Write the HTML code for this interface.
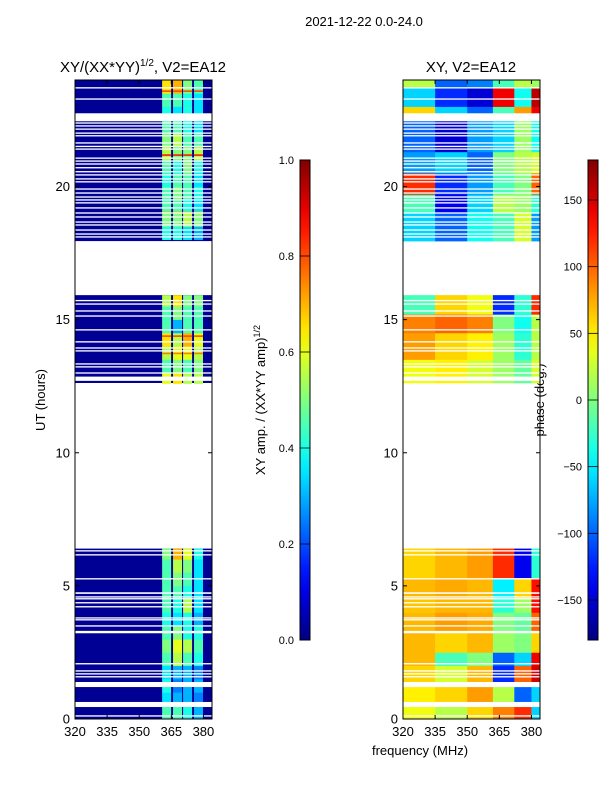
<!DOCTYPE html>
<html><head><meta charset="utf-8">
<style>
body{margin:0;background:#fff;}
svg text{font-family:"Liberation Sans","DejaVu Sans",sans-serif;fill:#000;}
</style></head>
<body>
<svg id="fig" width="600" height="800" xmlns="http://www.w3.org/2000/svg">
<rect width="600" height="800" fill="#fff"/>
<text x="364" y="26" font-size="13" text-anchor="middle">2021-12-22 0.0-24.0</text>
<text x="143" y="72" font-size="15" text-anchor="middle">XY/(XX*YY)<tspan font-size="10" dy="-6">1/2</tspan><tspan dy="6">, V2=EA12</tspan></text>
<text x="471" y="72" font-size="15" text-anchor="middle">XY, V2=EA12</text>
<text transform="translate(45,400) rotate(-90)" font-size="13" text-anchor="middle">UT (hours)</text>
<text x="420" y="755" font-size="13" text-anchor="middle">frequency (MHz)</text>
<text transform="translate(265,400) rotate(-90)" font-size="13" text-anchor="middle">XY amp. / (XX*YY amp)<tspan font-size="9" dy="-5">1/2</tspan></text>
<text transform="translate(544,400) rotate(-90)" font-size="13" text-anchor="middle">phase (deg.)</text>
<g id="left"></g>
<g id="right"></g>
<g id="axes"></g>
</svg>
<script>
// ---- data ----
const segments = [[0,6.4],[12.62,15.92],[17.95,24]];
const gaps = [[6.29,6.34],[6.14,6.19],[5.24,5.29],[4.70,4.76],[4.56,4.61],[4.49,4.54],[4.34,4.39],[4.19,4.24],[3.77,3.82],[3.70,3.75],[3.47,3.52],[3.22,3.31],[2.05,2.10],[1.78,1.83],[1.67,1.72],[1.56,1.61],[1.20,1.39],[0.45,0.64],[0.09,0.14],
 [15.69,15.74],[15.56,15.61],[15.30,15.35],[15.11,15.16],[14.59,14.64],[14.14,14.19],[13.91,13.96],[13.80,13.85],[13.31,13.36],[13.20,13.25],[12.97,13.02],[12.70,12.86],
 [23.68,23.73],[23.26,23.31],[22.45,22.75],[22.36,22.41],[22.25,22.30],[22.13,22.18],[21.98,22.03],[21.88,21.93],[21.61,21.66],[21.48,21.53],[21.38,21.43],[21.04,21.09],[20.93,20.98],[20.82,20.87],[20.68,20.73],[20.53,20.58],[20.41,20.46],[20.26,20.31],[20.15,20.20],[19.88,19.93],[19.73,19.78],[19.58,19.63],[19.47,19.52],[19.36,19.41],[19.17,19.22],[18.98,19.03],[18.83,18.88],[18.64,18.69],[18.53,18.58],[18.34,18.39],[18.19,18.24],[18.08,18.13]];
const ampBackground = 0.02;
const ampChannels = [[360.7,364.9],[365.8,370.0],[370.5,374.7],[375.6,379.8]];
const ampBlockStart = [0,0.5,1.0,1.5,2.0,2.5,3.0,3.5,4.0,4.5,5.0,5.5,6.0, 12.6,13.0,13.5,14.0,14.5,15.0,15.5, 18,18.5,19,19.5,20,20.5,21,21.5,22,22.5,23,23.5];
const ampBlockEnd   = [0.5,1.0,1.5,2.0,2.5,3.0,3.5,4.0,4.5,5.0,5.5,6.0,6.4, 13.0,13.5,14.0,14.5,15.0,15.5,15.92, 18.5,19,19.5,20,20.5,21,21.5,22,22.5,23,23.5,24];
const ampValues = [[0.45,0.45,0.4,0.3],[0.35,0.3,0.3,0.25],[0.4,0.25,0.3,0.3],[0.35,0.3,0.3,0.25],[0.45,0.55,0.45,0.4],[0.5,0.6,0.55,0.45],[0.45,0.5,0.4,0.4],[0.4,0.35,0.4,0.3],[0.45,0.4,0.55,0.35],[0.45,0.45,0.4,0.35],[0.45,0.5,0.45,0.35],[0.45,0.55,0.5,0.35],[0.5,0.7,0.6,0.4],
 [0.6,0.65,0.55,0.55],[0.45,0.5,0.45,0.5],[0.55,0.6,0.6,0.55],[0.65,0.55,0.7,0.6],[0.45,0.3,0.45,0.45],[0.45,0.5,0.45,0.45],[0.55,0.65,0.5,0.5],
 [0.4,0.4,0.35,0.3],[0.5,0.5,0.55,0.5],[0.45,0.45,0.4,0.35],[0.45,0.5,0.45,0.4],[0.4,0.45,0.45,0.35],[0.45,0.4,0.5,0.4],[0.55,0.5,0.5,0.55],[0.5,0.55,0.45,0.45],[0.45,0.45,0.4,0.35],[0.4,0.35,0.4,0.35],[0.45,0.45,0.4,0.35],[0.65,0.7,0.5,0.45]];
const hotRowTime = [21.15,19.0,14.35,13.7,23.55];
const hotRowValue = [0.85,0.7,0.8,0.75,0.8];
const phaseBands = [[320,335],[335,350],[350,362],[362,372],[372,380],[380,384]];
const phaseBlockStart = [0,0.64,1.39,2.0,2.5,3.3,4.0,4.5,5.3, 12.62,13.5,14.5,15.2, 17.95,19,19.7,20.5,21.3,22.5,23,23.7];
const phaseBlockEnd   = [0.45,1.2,2.0,2.5,3.3,4.0,4.5,5.3,6.4, 13.5,14.5,15.2,15.92, 19,19.7,20.5,21.3,22.5,23,23.7,24];
const phaseValues = [[40,20,60,90,120,-60],[50,60,80,20,-100,-60],[60,30,70,-120,100,150],[70,-20,0,-100,-60,140],[70,60,70,10,0,60],[70,80,75,0,-10,100],[65,70,70,-30,10,130],[70,75,70,-50,60,130],[60,70,80,120,-140,-30],
 [40,50,30,10,-10,30],[80,60,50,10,-30,20],[90,100,90,0,-40,20],[-20,60,40,-120,-30,120],
 [-60,-100,-40,-20,30,-80],[-20,-140,-60,20,10,-30],[120,-120,-80,-20,0,100],[-80,-60,-100,0,20,30],[-100,-150,-80,-60,10,-40],[60,-60,-100,-20,80,140],[-60,-120,-150,140,-40,160],[20,-100,-90,-20,20,10]];
const yTicks = [0,5,10,15,20];
const xTicks = [320,335,350,365,380];
const ampCbTicks = [0.0,0.2,0.4,0.6,0.8,1.0];
const phaseCbTicks = [-150,-100,-50,0,50,100,150];

// ---- geometry ----
const NS="http://www.w3.org/2000/svg";
const Y0=719, Y1=80, T0=0, T1=24;
const yS = h => Y0 - (h-T0)/(T1-T0)*(Y0-Y1);
const F0=320, F1=384;
const xL = f => 75 + (f-F0)/(F1-F0)*137;
const xR = f => 403 + (f-F0)/(F1-F0)*137;
function jet(v){v=Math.max(0,Math.min(1,v));
 const c=x=>Math.round(255*Math.max(0,Math.min(1,x)));
 const r=1.5-Math.abs(4*v-3), g=1.5-Math.abs(4*v-2), b=1.5-Math.abs(4*v-1);
 return `rgb(${c(r)},${c(g)},${c(b)})`;}
function el(parent,tag,attrs){const e=document.createElementNS(NS,tag);for(const k in attrs)e.setAttribute(k,attrs[k]);parent.appendChild(e);return e;}
const L=document.getElementById('left'), R=document.getElementById('right'), A=document.getElementById('axes');

segments.forEach(s=>{const r=el(L,'rect',{x:xL(F0),y:yS(s[1]),width:xL(F1)-xL(F0),height:yS(s[0])-yS(s[1]),fill:jet(ampBackground)});
 
 });
ampBlockStart.forEach((t0,i)=>{const t1=ampBlockEnd[i];
 ampValues[i].forEach((v,j)=>{const ch=ampChannels[j];
  const r=el(L,'rect',{x:xL(ch[0]),y:yS(t1),width:xL(ch[1])-xL(ch[0]),height:yS(t0)-yS(t1)+0.3,fill:jet(v)});
  
  });});
hotRowTime.forEach((t,i)=>{ampChannels.forEach(ch=>{
 const r=el(L,'rect',{x:xL(ch[0]),y:yS(t+0.06),width:xL(ch[1])-xL(ch[0]),height:yS(t)-yS(t+0.06),fill:jet(hotRowValue[i])});
 
 });});
phaseBlockStart.forEach((t0,i)=>{const t1=phaseBlockEnd[i];
 phaseValues[i].forEach((v,j)=>{const b=phaseBands[j];
  const r=el(R,'rect',{x:xR(b[0]),y:yS(t1),width:xR(b[1])-xR(b[0])+0.3,height:yS(t0)-yS(t1)+0.3,fill:jet((v+180)/360)});
  
  });});
gaps.forEach(g=>{[[L,xL],[R,xR]].forEach(([P,xf])=>{
 const r=el(P,'rect',{x:xf(F0),y:yS(g[1]),width:xf(F1)-xf(F0),height:Math.max(1,yS(g[0])-yS(g[1])),fill:'#fff'});
 
 });});

[[75,xL],[403,xR]].forEach(([x0,xf],pi)=>{
 const f=el(A,'rect',{x:x0,y:Y1,width:137,height:Y0-Y1,fill:'none',stroke:'#000','stroke-width':1});
 
 
 yTicks.forEach(t=>{const y=yS(t);
  el(A,'line',{x1:x0,x2:x0+4,y1:y,y2:y,stroke:'#000'});
  el(A,'line',{x1:x0+137,x2:x0+133,y1:y,y2:y,stroke:'#000'});
  const tx=el(A,'text',{x:x0-5,y:y+4.5,'font-size':13,'text-anchor':'end'});tx.textContent=t;
  
  });
 xTicks.forEach(t=>{const x=xf(t);
  el(A,'line',{x1:x,x2:x,y1:Y0,y2:Y0-4,stroke:'#000'});
  el(A,'line',{x1:x,x2:x,y1:Y1,y2:Y1+4,stroke:'#000'});
  const tx=el(A,'text',{x:x,y:Y0+17,'font-size':13,'text-anchor':'middle'});tx.textContent=t;
  
  });
});
const defs=el(A,'defs',{});
const grad=el(defs,'linearGradient',{id:'jetg',x1:0,y1:1,x2:0,y2:0});
for(let i=0;i<=20;i++)el(grad,'stop',{offset:i/20,'stop-color':jet(i/20)});
function cbar(x,ticks,lo,hi,name){
 const r=el(A,'rect',{x:x,y:160,width:10,height:480,fill:'url(#jetg)',stroke:'#000','stroke-width':1});
 
 
 ticks.forEach(t=>{const y=640-(t-lo)/(hi-lo)*480;
  el(A,'line',{x1:x,x2:x+10,y1:y,y2:y,stroke:'#000','stroke-width':0.8});
  const tx=el(A,'text',{x:x-6,y:y+4,'font-size':11,'text-anchor':'end'});
  tx.textContent=(lo===0?t.toFixed(1):(t<0?'\u2212'+(-t):t));
  
  });}
cbar(300,ampCbTicks,0,1,'amp-colorbar');
cbar(588,phaseCbTicks,-180,180,'phase-colorbar');
</script>
</body></html>
